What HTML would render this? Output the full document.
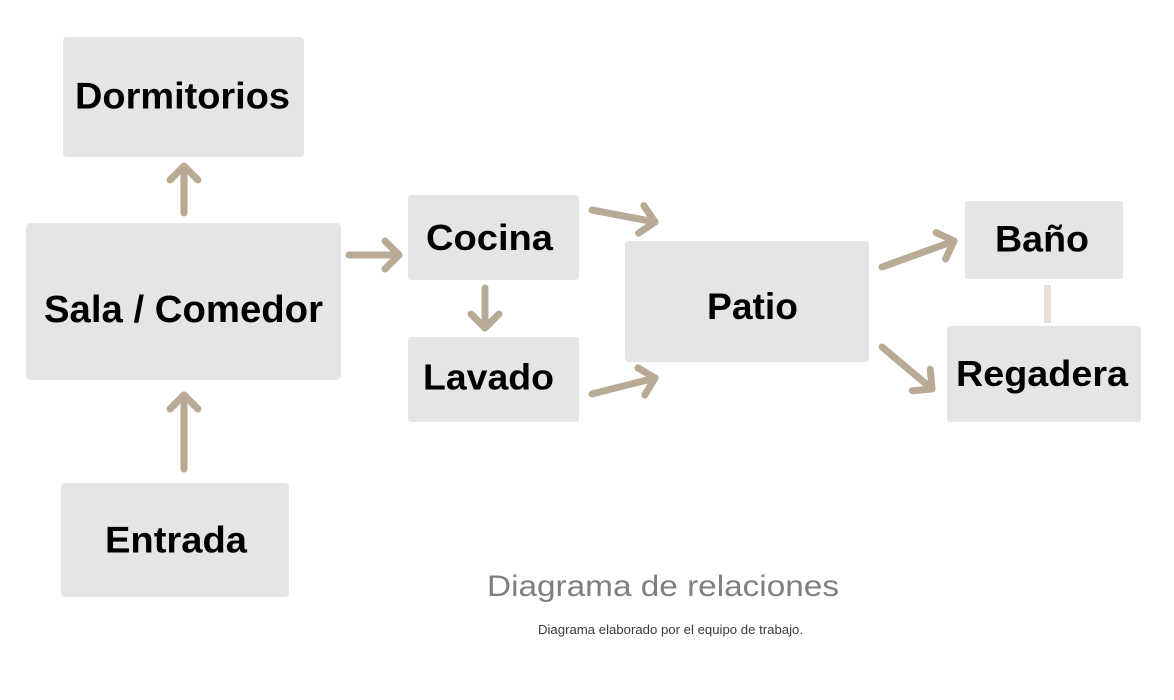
<!DOCTYPE html>
<html>
<head>
<meta charset="utf-8">
<style>
  html,body{margin:0;padding:0;background:#fff;}
  svg{display:block;}
  .lbl{font-family:"Liberation Sans",Arial,sans-serif;font-weight:bold;fill:#000;}
</style>
</head>
<body>
<svg width="1174" height="700" viewBox="0 0 1174 700" xmlns="http://www.w3.org/2000/svg">
  <defs>
    <marker id="ah" markerUnits="userSpaceOnUse" viewBox="-20 -20 30 40" refX="0" refY="0" markerWidth="30" markerHeight="40" orient="auto" overflow="visible">
      <polyline points="-14,-14 0,0 -14,14" fill="none" stroke="#b9aa95" stroke-width="7" stroke-linecap="round" stroke-linejoin="round"/>
    </marker>
  </defs>
  <rect width="1174" height="700" fill="#fff"/>

  <!-- boxes -->
  <rect x="63" y="37" width="241" height="120" rx="4" fill="#e5e5e5"/>
  <rect x="26" y="223" width="315" height="157" rx="5" fill="#e5e5e5"/>
  <rect x="61" y="483" width="228" height="114" rx="4" fill="#e5e5e5"/>
  <rect x="408" y="195" width="171" height="85" rx="3" fill="#e5e5e5"/>
  <rect x="408" y="337" width="171" height="85" rx="3" fill="#e5e5e5"/>
  <rect x="625" y="241" width="244" height="121" rx="4" fill="#e5e5e5"/>
  <rect x="965" y="201" width="158" height="78" rx="3" fill="#e5e5e5"/>
  <rect x="947" y="326" width="194" height="96" rx="3" fill="#e5e5e5"/>

  <!-- connectors -->
  <g stroke="#b9aa95" stroke-width="7" stroke-linecap="round" fill="none" marker-end="url(#ah)">
    <line x1="184" y1="213" x2="184" y2="166"/>
    <line x1="184" y1="469" x2="184" y2="395"/>
    <line x1="349" y1="255" x2="399" y2="255"/>
    <line x1="485" y1="288" x2="485" y2="328"/>
    <line x1="592" y1="210" x2="655" y2="222"/>
    <line x1="592" y1="394" x2="655" y2="378"/>
    <line x1="882" y1="267" x2="954" y2="241"/>
    <line x1="882" y1="347" x2="932" y2="389"/>
  </g>
  <line x1="1047.5" y1="285" x2="1047.5" y2="323" stroke="#e6dfd5" stroke-width="7"/>

  <!-- labels -->
  <text class="lbl" x="75" y="108.5" font-size="37" textLength="215" lengthAdjust="spacingAndGlyphs">Dormitorios</text>
  <text class="lbl" x="44" y="322" font-size="38" textLength="279" lengthAdjust="spacingAndGlyphs">Sala / Comedor</text>
  <text class="lbl" x="105" y="552.5" font-size="37" textLength="142" lengthAdjust="spacingAndGlyphs">Entrada</text>
  <text class="lbl" x="426" y="250" font-size="36" textLength="127" lengthAdjust="spacingAndGlyphs">Cocina</text>
  <text class="lbl" x="423" y="389.5" font-size="36" textLength="131" lengthAdjust="spacingAndGlyphs">Lavado</text>
  <text class="lbl" x="707" y="319" font-size="37" textLength="91" lengthAdjust="spacingAndGlyphs">Patio</text>
  <text class="lbl" x="995" y="251.5" font-size="37" textLength="94" lengthAdjust="spacingAndGlyphs">Baño</text>
  <text class="lbl" x="956" y="386" font-size="36" textLength="172" lengthAdjust="spacingAndGlyphs">Regadera</text>

  <!-- title -->
  <text x="487" y="596" font-family="'Liberation Sans',Arial,sans-serif" font-size="30" fill="#7f7f7f" textLength="352" lengthAdjust="spacingAndGlyphs">Diagrama de relaciones</text>
  <text x="538" y="634" font-family="'Liberation Sans',Arial,sans-serif" font-size="13" fill="#3a3a3a" textLength="265" lengthAdjust="spacingAndGlyphs">Diagrama elaborado por el equipo de trabajo.</text>
</svg>
</body>
</html>
